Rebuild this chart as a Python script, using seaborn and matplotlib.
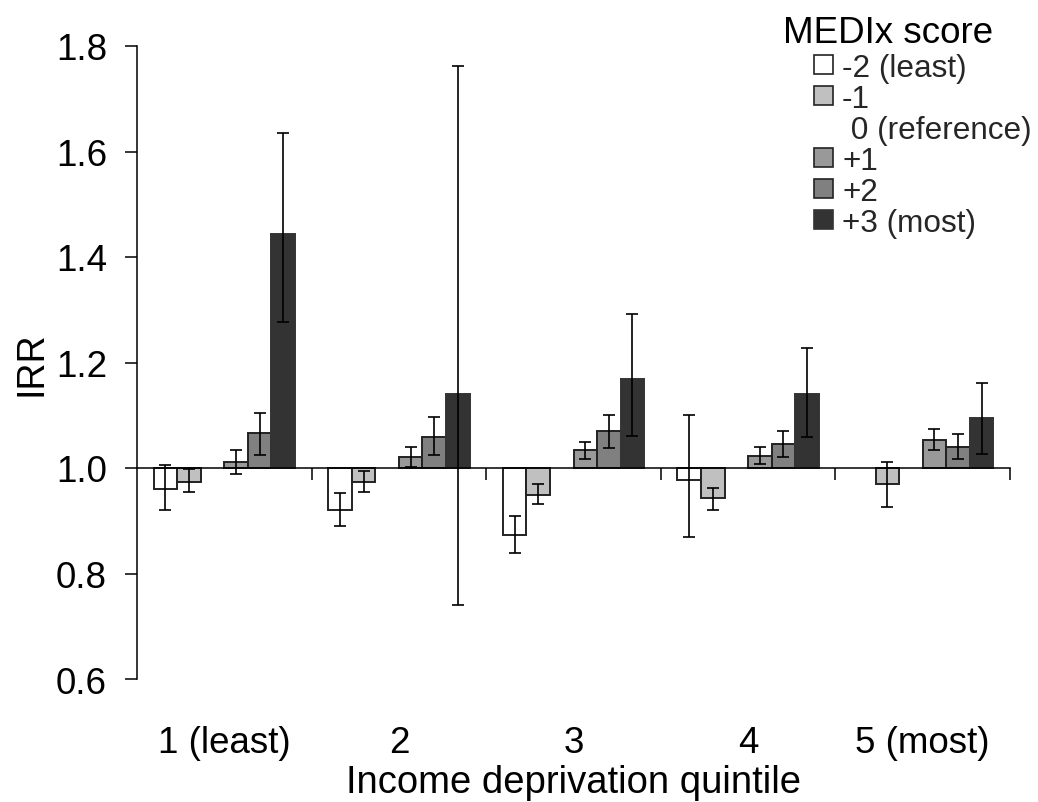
import numpy as np
import pandas as pd
import matplotlib
matplotlib.use("Agg")
import matplotlib.pyplot as plt
import seaborn as sns
from matplotlib.patches import Patch
from matplotlib.ticker import FuncFormatter

# ---------------- data ----------------
quintiles = ["1 (least)", "2", "3", "4", "5 (most)"]
scores = ["-2 (least)", "-1", "0 (reference)", "+1", "+2", "+3 (most)"]

nan = np.nan
irr_m2 = [0.961, 0.921, 0.873, 0.977, nan]
lo_m2 = [0.921, 0.890, 0.839, 0.869, nan]
hi_m2 = [1.006, 0.952, 0.909, 1.101, nan]

irr_m1 = [0.974, 0.974, 0.949, 0.943, 0.969]
lo_m1 = [0.954, 0.954, 0.932, 0.920, 0.926]
hi_m1 = [0.998, 0.994, 0.969, 0.963, 1.011]

irr_p1 = [1.011, 1.020, 1.034, 1.022, 1.054]
lo_p1 = [0.989, 1.001, 1.017, 1.008, 1.034]
hi_p1 = [1.034, 1.039, 1.050, 1.039, 1.074]

irr_p2 = [1.066, 1.059, 1.070, 1.045, 1.040]
lo_p2 = [1.025, 1.025, 1.038, 1.020, 1.017]
hi_p2 = [1.105, 1.096, 1.101, 1.071, 1.065]

irr_p3 = [1.443, 1.141, 1.169, 1.141, 1.094]
lo_p3 = [1.277, 0.740, 1.061, 1.059, 1.027]
hi_p3 = [1.636, 1.763, 1.291, 1.228, 1.161]

series = {
    "-2 (least)": (irr_m2, lo_m2, hi_m2),
    "-1": (irr_m1, lo_m1, hi_m1),
    "+1": (irr_p1, lo_p1, hi_p1),
    "+2": (irr_p2, lo_p2, hi_p2),
    "+3 (most)": (irr_p3, lo_p3, hi_p3),
}
colors = {
    "-2 (least)": "#ffffff",
    "-1": "#c0c0c0",
    "0 (reference)": "#ffffff",
    "+1": "#999999",
    "+2": "#808080",
    "+3 (most)": "#333333",
}
BASE = 1.0

rows = []
for s, (v, lo, hi) in series.items():
    for q, val, l, h in zip(quintiles, v, lo, hi):
        if not np.isnan(val):
            rows.append({"quintile": q, "score": s, "dev": val - BASE,
                         "lo": l - BASE, "hi": h - BASE})
df = pd.DataFrame(rows)

# ---------------- plot ----------------
sns.set_theme(style="white")
plt.rcParams["font.family"] = ["Liberation Sans", "DejaVu Sans"]

W, H = 1038, 803
fig = plt.figure(figsize=(W / 100, H / 100), dpi=100)
ax = fig.add_axes([137 / W, 1 - 680 / H, (1010 - 137) / W, (680 - 47) / H])

group_width = 0.81
sns.barplot(data=df, x="quintile", y="dev", hue="score", order=quintiles,
            hue_order=scores, palette=colors, width=group_width, dodge=True,
            errorbar=None, saturation=1, edgecolor="#222222", linewidth=1.4,
            legend=False, ax=ax)

for p in ax.patches:
    fc = p.get_facecolor()
    if fc[0] < 0.25:
        p.set_edgecolor(fc)

nlev = len(scores)
bw = group_width / nlev
for si, s in enumerate(scores):
    if s not in series:
        continue
    sub = df[df["score"] == s]
    xs = np.array([quintiles.index(q) for q in sub["quintile"]]) + (si - (nlev - 1) / 2) * bw
    d = sub["dev"].to_numpy()
    yerr = [d - sub["lo"].to_numpy(), sub["hi"].to_numpy() - d]
    ax.errorbar(xs, d, yerr=yerr, fmt="none", ecolor="black", elinewidth=1.2,
                capsize=4.3, capthick=1.2, zorder=5)

ax.set_xlim(-0.5, len(quintiles) - 0.5)
ax.set_ylim(0.6 - BASE, 1.8 - BASE)
ax.set_yticks(np.round(np.arange(0.6, 1.81, 0.2) - BASE, 2))
ax.yaxis.set_major_formatter(FuncFormatter(lambda v, _: f"{v + BASE:.1f}"))

ax.set_xticks(range(len(quintiles)), quintiles)
ax.set_xticks(np.arange(len(quintiles)) + 0.5, minor=True)
ax.tick_params(axis="x", which="major", length=0, pad=185, labelsize=26.5,
               colors="black")
ax.tick_params(axis="x", which="minor", length=8.6, width=1.1, direction="out",
               bottom=True, color="black")
ax.tick_params(axis="y", which="major", length=8.6, width=1.1, direction="out",
               pad=13, labelsize=26.5, left=True, color="black", labelcolor="black")

for side in ["top", "right"]:
    ax.spines[side].set_visible(False)
ax.spines["bottom"].set_position(("data", 0))
for side in ["bottom", "left"]:
    ax.spines[side].set_color("black")
    ax.spines[side].set_linewidth(1.1)
ax.grid(False)

ax.set_xlabel("Income deprivation quintile", fontsize=27.5, color="black")
ax.xaxis.set_label_coords(0.5, -0.135)
ax.set_ylabel("IRR", fontsize=27, color="black")
ax.yaxis.set_label_coords(-0.0997, 0.5)

# legend
fig.text(783 / W, 1 - 16 / H, "MEDIx score", fontsize=26.5, ha="left", va="top",
         color="black")
handles = []
labels = []
for s in scores:
    if s == "0 (reference)":
        handles.append(Patch(facecolor="none", edgecolor="none"))
        labels.append(" " + s)
    else:
        ec = colors[s] if s == "+3 (most)" else "#222222"
        handles.append(Patch(facecolor=colors[s], edgecolor=ec, linewidth=1.2))
        labels.append(s)
fig.legend(handles, labels, loc="upper left",
           bbox_to_anchor=(814 / W, 1 - 54 / H), bbox_transform=fig.transFigure,
           frameon=False, fontsize=22.7, handlelength=0.6, handleheight=0.54,
           handletextpad=0.29, labelspacing=0.03, borderpad=0, borderaxespad=0)

fig.savefig("out.png", dpi=100)
